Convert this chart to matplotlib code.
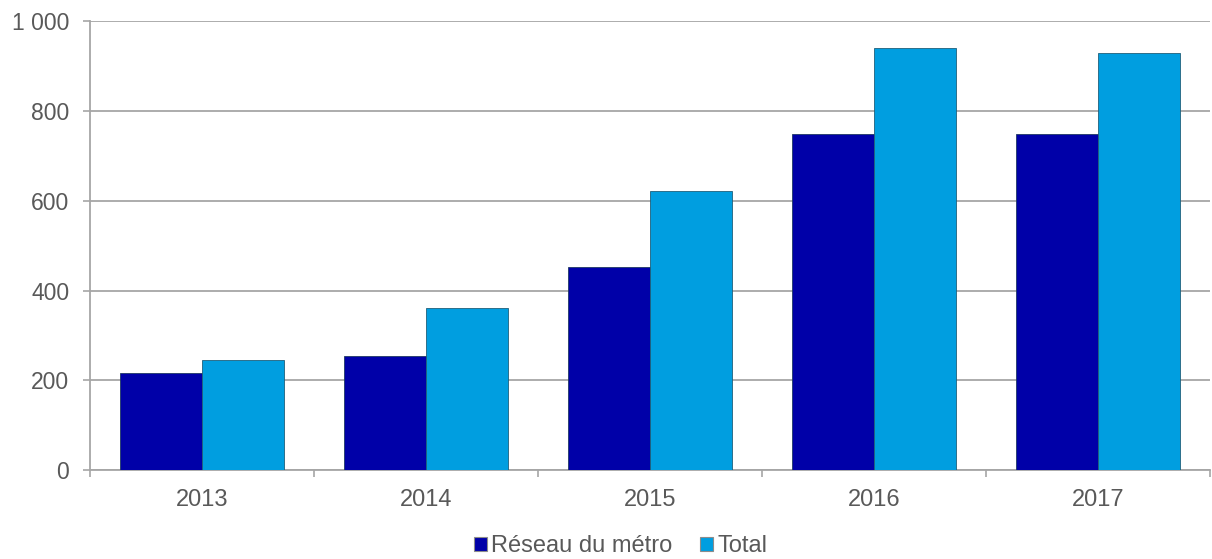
import matplotlib.pyplot as plt
from matplotlib.ticker import FuncFormatter, FixedLocator
from matplotlib.patches import Patch
import numpy as np

# Données
annees = ['2013', '2014', '2015', '2016', '2017']
reseau_metro = [216, 255, 453, 749, 749]
total = [246, 362, 621, 940, 929]

couleur_metro = '#0000A8'
couleur_total = '#009EE0'
gris = '#A6A6A6'
texte = '#595959'

plt.rcParams['font.family'] = ['Liberation Sans', 'DejaVu Sans']

fig = plt.figure(figsize=(12.12, 5.59), dpi=100)
ax = fig.add_axes([90 / 1212, 1 - 470 / 559, 1120 / 1212, (470 - 21.3) / 559])

x = np.arange(len(annees))
largeur = 0.366
ax.bar(x - largeur / 2, reseau_metro, largeur, color=couleur_metro,
       edgecolor='#1F3864', linewidth=0.6, zorder=3)
ax.bar(x + largeur / 2, total, largeur, color=couleur_total,
       edgecolor='#1F5F7A', linewidth=0.6, zorder=3)

ax.set_xlim(-0.5, len(annees) - 0.5)
ax.set_ylim(0, 1000)
ax.set_yticks(range(0, 1001, 200))
ax.yaxis.set_major_formatter(FuncFormatter(lambda v, p: f'{int(v):,}'.replace(',', ' ')))

# Graduations de l'axe X entre les catégories, étiquettes au centre
ax.xaxis.set_major_locator(FixedLocator(np.arange(-0.5, len(annees), 1.0)))
ax.xaxis.set_minor_locator(FixedLocator(x))
ax.xaxis.set_major_formatter(FuncFormatter(lambda v, p: ''))
ax.xaxis.set_minor_formatter(FuncFormatter(lambda v, p: annees[int(round(v))]))
ax.tick_params(axis='x', which='major', length=5, width=1.2, color=gris, direction='out')
ax.tick_params(axis='x', which='minor', length=0, pad=14, labelsize=17, labelcolor=texte)
ax.tick_params(axis='y', length=5, width=1.2, color=gris, pad=10, labelsize=16.5, labelcolor=texte)

ax.grid(axis='y', color=gris, linewidth=1.3, zorder=0)
for cote in ['top', 'right']:
    ax.spines[cote].set_visible(False)
for cote in ['left', 'bottom']:
    ax.spines[cote].set_color(gris)
    ax.spines[cote].set_linewidth(1.3)

poignees = [Patch(facecolor=couleur_metro, edgecolor='#8C8C8C', linewidth=0.8),
            Patch(facecolor=couleur_total, edgecolor='#8C8C8C', linewidth=0.8)]
fig.legend(poignees, ['Réseau du métro', 'Total'], loc='lower center',
           bbox_to_anchor=(0.512, -0.035), ncol=2, frameon=False,
           fontsize=17, labelcolor=texte, handlelength=0.55, handleheight=0.55,
           handletextpad=0.17, columnspacing=1.2)

fig.savefig('out.png', dpi=100)
